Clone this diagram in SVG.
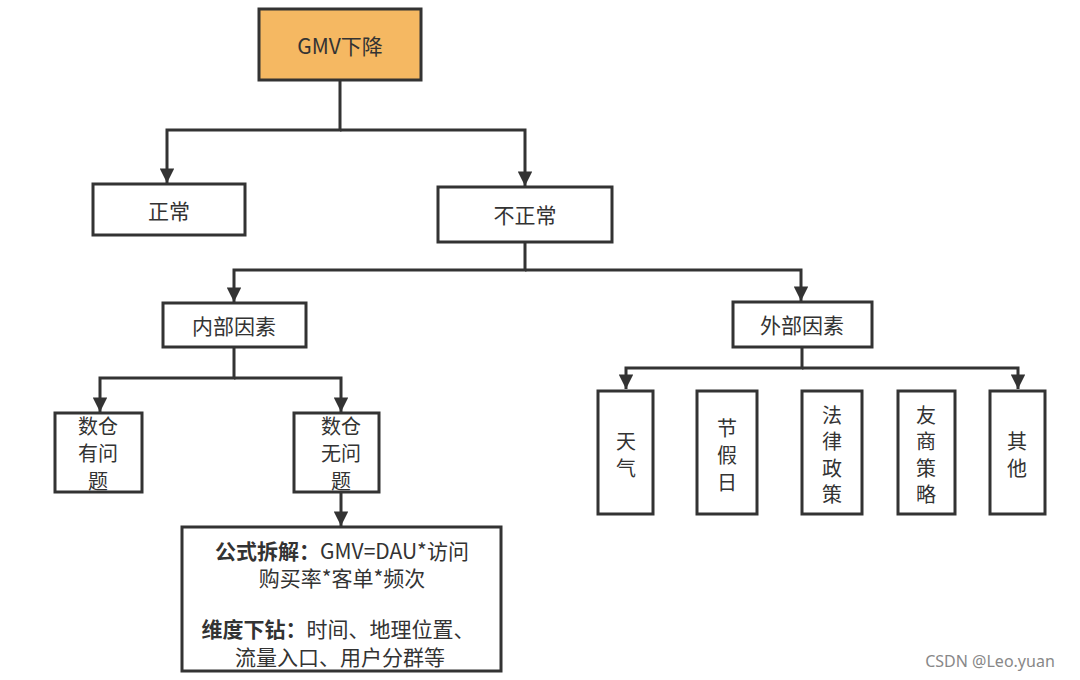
<svg xmlns="http://www.w3.org/2000/svg" width="1080" height="680" viewBox="0 0 1080 680">
<style>
.box{fill:#fff;stroke:#333;stroke-width:3}
.top{fill:#F5B862;stroke:#333;stroke-width:3}
.t{font-family:"Noto Sans CJK SC","Noto Sans",sans-serif;font-size:21px;fill:#333;text-anchor:middle;dominant-baseline:central}
.v{font-size:20px}
.b{font-weight:bold}
.c{fill:none;stroke:#333;stroke-width:3}
</style>
<defs>
<marker id="ah" viewBox="0 0 10 10" refX="10" refY="5" markerWidth="5" markerHeight="4.8" orient="auto" markerUnits="strokeWidth">
<path d="M0,0 L10,5 L0,10 z" fill="#333"/>
</marker>
</defs>
<rect width="1080" height="680" fill="#fff"/>
<g id="connectors">
<path class="c" d="M340,80 V130 H167 V183" marker-end="url(#ah)"/>
<path class="c" d="M340,130 H525 V186" marker-end="url(#ah)"/>
<path class="c" d="M525,242 V270 H234 V302" marker-end="url(#ah)"/>
<path class="c" d="M525,270 H801 V301" marker-end="url(#ah)"/>
<path class="c" d="M234,347 V378 H100 V412" marker-end="url(#ah)"/>
<path class="c" d="M234,378 H341 V412" marker-end="url(#ah)"/>
<path class="c" d="M341,492 V526" marker-end="url(#ah)"/>
<path class="c" d="M802,347 V368 H626 V389" marker-end="url(#ah)"/>
<path class="c" d="M802,368 H1018 V389" marker-end="url(#ah)"/>
</g>
<g id="gmv"><rect class="top" x="259" y="9" width="162" height="71"/><text class="t" x="340" y="45">GMV下降</text></g>
<g id="normal"><rect class="box" x="93" y="184" width="152" height="51"/><text class="t" x="169" y="210">正常</text></g>
<g id="abnormal"><rect class="box" x="438" y="187" width="174" height="55"/><text class="t" x="525" y="214">不正常</text></g>
<g id="internal"><rect class="box" x="163" y="303" width="143" height="44"/><text class="t" x="234" y="325">内部因素</text></g>
<g id="external"><rect class="box" x="733" y="302" width="139" height="45"/><text class="t" x="802" y="324">外部因素</text></g>
<g id="dw-problem"><rect class="box" x="55" y="413" width="87" height="79"/>
<text class="t v" x="98" y="425">数仓</text><text class="t v" x="98" y="452">有问</text><text class="t v" x="98" y="480">题</text></g>
<g id="dw-ok"><rect class="box" x="294" y="413" width="85" height="79"/>
<text class="t v" x="341" y="425">数仓</text><text class="t v" x="341" y="452">无问</text><text class="t v" x="341" y="480">题</text></g>
<g id="detail"><rect class="box" x="182" y="527" width="319" height="144"/>
<text class="t" x="342" y="550"><tspan class="b">公式拆解：</tspan>GMV=DAU*访问</text>
<text class="t" x="342" y="577">购买率*客单*频次</text>
<text class="t" x="338" y="628"><tspan class="b">维度下钻：</tspan>时间、地理位置、</text>
<text class="t" x="340" y="656">流量入口、用户分群等</text></g>
<g id="weather"><rect class="box" x="598" y="391" width="55" height="123"/>
<text class="t v" x="626" y="440">天</text><text class="t v" x="626" y="467">气</text></g>
<g id="holiday"><rect class="box" x="697" y="391" width="60" height="123"/>
<text class="t v" x="727" y="427">节</text><text class="t v" x="727" y="454">假</text><text class="t v" x="727" y="481">日</text></g>
<g id="law"><rect class="box" x="802" y="391" width="60" height="123"/>
<text class="t v" x="832" y="414">法</text><text class="t v" x="832" y="440">律</text><text class="t v" x="832" y="467">政</text><text class="t v" x="832" y="493">策</text></g>
<g id="competitor"><rect class="box" x="898" y="391" width="57" height="123"/>
<text class="t v" x="926" y="414">友</text><text class="t v" x="926" y="440">商</text><text class="t v" x="926" y="467">策</text><text class="t v" x="926" y="493">略</text></g>
<g id="other"><rect class="box" x="990" y="391" width="55" height="123"/>
<text class="t v" x="1017" y="440">其</text><text class="t v" x="1017" y="467">他</text></g>
<text x="990" y="661" style="font-family:'Noto Sans','Liberation Sans',sans-serif;font-size:16px;fill:#888;text-anchor:middle;dominant-baseline:central">CSDN @Leo.yuan</text>
</svg>
